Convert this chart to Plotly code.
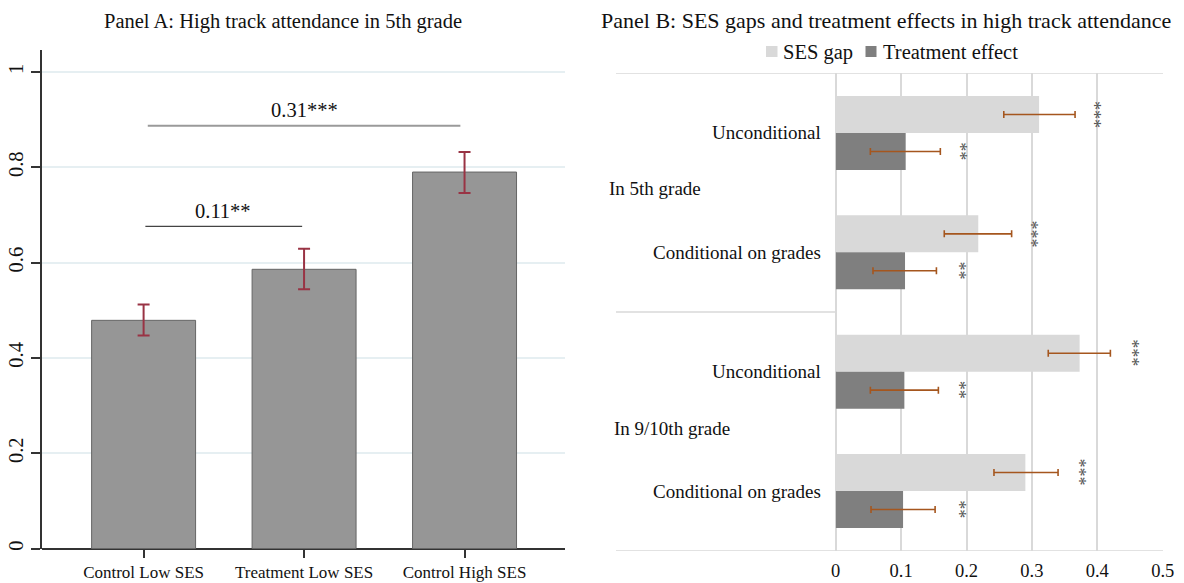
import plotly.graph_objects as go

# ---------------- Data ----------------
# Panel A
groups_a = ["Control Low SES", "Treatment Low SES", "Control High SES"]
share_a = [0.479, 0.586, 0.790]
ci_hi_a = [0.512, 0.629, 0.832]
ci_lo_a = [0.447, 0.544, 0.746]
y_ticks_a = [0, 0.2, 0.4, 0.6, 0.8, 1]
y_tick_text_a = ["0", "0.2", "0.4", "0.6", "0.8", "1"]

# brackets between groups
bracket_x0 = [0.026, 0.011]
bracket_x1 = [1.974, 0.988]
bracket_y = [0.887, 0.676]
bracket_lbl = ["0.31***", "0.11**"]
bracket_lbl_x = [1.0, 0.497]
bracket_lbl_y = [0.921, 0.709]

# Panel B
rows_b = ["Unconditional", "Conditional on grades", "Unconditional", "Conditional on grades"]
row_pos_b = [0, 1, 2, 3]
group_lbl_b = ["In 5th grade", "In 9/10th grade"]
group_pos_b = [0.464, 2.474]
ses_gap = [0.311, 0.218, 0.373, 0.290]
ses_lo = [0.257, 0.166, 0.325, 0.242]
ses_hi = [0.366, 0.269, 0.420, 0.340]
ses_star = ["***", "***", "***", "***"]
ses_star_x = [0.394, 0.299, 0.453, 0.372]
treat = [0.107, 0.106, 0.105, 0.103]
treat_lo = [0.053, 0.057, 0.053, 0.054]
treat_hi = [0.160, 0.154, 0.157, 0.152]
treat_star = ["**", "**", "**", "**"]
treat_star_x = [0.189, 0.189, 0.189, 0.189]
x_ticks_b = [0, 0.1, 0.2, 0.3, 0.4, 0.5]
x_tick_text_b = ["0", "0.1", "0.2", "0.3", "0.4", "0.5"]
legend_names_b = ["SES gap", "Treatment effect"]

# ---------------- Figure ----------------
W, H = 1184, 583
SERIF = "Liberation Serif, Times New Roman, serif"
SES_COL = "#d9d9d9"
TRT_COL = "#7f7f7f"
ERR_B = "#a5561e"


def px(x):
    return x / W


def py(y):
    return 1 - y / H


fig = go.Figure()

# Panel A bars
fig.add_trace(go.Bar(
    x=list(range(len(groups_a))), y=share_a, width=0.648,
    marker=dict(color="#969696", line=dict(color="#666666", width=1)),
    error_y=dict(type="data", symmetric=False,
                 array=[h - v for h, v in zip(ci_hi_a, share_a)],
                 arrayminus=[v - l for l, v in zip(ci_lo_a, share_a)],
                 color="#993344", thickness=2, width=6),
    xaxis="x", yaxis="y", showlegend=False, hoverinfo="skip",
))

# Panel B bars
fig.add_trace(go.Bar(
    y=row_pos_b, x=ses_gap, orientation="h", name=legend_names_b[0],
    width=0.31, offset=-0.31,
    marker=dict(color=SES_COL, line=dict(width=0)),
    error_x=dict(type="data", symmetric=False,
                 array=[h - v for h, v in zip(ses_hi, ses_gap)],
                 arrayminus=[v - l for l, v in zip(ses_lo, ses_gap)],
                 color=ERR_B, thickness=1.6, width=3.5),
    xaxis="x2", yaxis="y2", hoverinfo="skip", showlegend=False,
))
fig.add_trace(go.Bar(
    y=row_pos_b, x=treat, orientation="h", name=legend_names_b[1],
    width=0.31, offset=0,
    marker=dict(color=TRT_COL, line=dict(width=0)),
    error_x=dict(type="data", symmetric=False,
                 array=[h - v for h, v in zip(treat_hi, treat)],
                 arrayminus=[v - l for l, v in zip(treat_lo, treat)],
                 color=ERR_B, thickness=1.6, width=3.5),
    xaxis="x2", yaxis="y2", hoverinfo="skip", showlegend=False,
))

shapes = []
annotations = []

# Panel A brackets
for x0, x1, yy, col, lw in zip(bracket_x0, bracket_x1, bracket_y,
                               ["#9a9a9a", "#444444"], [2, 1.2]):
    shapes.append(dict(type="line", xref="x", yref="y", x0=x0, x1=x1, y0=yy, y1=yy,
                       line=dict(color=col, width=lw)))
for t, lx, ly in zip(bracket_lbl, bracket_lbl_x, bracket_lbl_y):
    annotations.append(dict(xref="x", yref="y", x=lx, y=ly, text=t, showarrow=False,
                            font=dict(family=SERIF, size=20.5, color="#111")))

# Panel titles
annotations.append(dict(xref="paper", yref="paper", x=px(283), y=py(22),
                        text="Panel A: High track attendance in 5th grade",
                        showarrow=False, font=dict(family=SERIF, size=20.5, color="#111"),
                        xanchor="center", yanchor="middle"))
annotations.append(dict(xref="paper", yref="paper", x=px(886), y=py(20),
                        text="Panel B: SES gaps and treatment effects in high track attendance",
                        showarrow=False, font=dict(family=SERIF, size=22, color="#111"),
                        xanchor="center", yanchor="middle"))

# Panel B legend (square swatches + labels)
for (sx0, sx1, tx), nm, col in zip([(766, 777.5, 781), (865.5, 876.5, 881)], legend_names_b, [SES_COL, TRT_COL]):
    shapes.append(dict(type="rect", xref="paper", yref="paper", x0=px(sx0), x1=px(sx1),
                       y0=py(57), y1=py(46), fillcolor=col, line=dict(width=0)))
    annotations.append(dict(xref="paper", yref="paper", x=px(tx), y=py(52), text=nm, showarrow=False,
                            xanchor="left", yanchor="middle",
                            font=dict(family=SERIF, size=20.5, color="#111")))

# Panel B significance stars
for sx, yy, s in zip(ses_star_x, row_pos_b, ses_star):
    annotations.append(dict(xref="x2", yref="y2", x=sx, y=yy - 0.155, text=s, showarrow=False,
                            textangle=90, font=dict(family=SERIF, size=18, color="#555")))
for sx, yy, s in zip(treat_star_x, row_pos_b, treat_star):
    annotations.append(dict(xref="x2", yref="y2", x=sx, y=yy + 0.155, text=s, showarrow=False,
                            textangle=90, font=dict(family=SERIF, size=18, color="#555")))

# Panel B category labels
for yy, lbl in zip(row_pos_b, rows_b):
    annotations.append(dict(xref="paper", yref="y2", x=px(823), y=yy, text=lbl, showarrow=False,
                            xanchor="right", yanchor="middle",
                            font=dict(family=SERIF, size=19, color="#111")))
for gy, gx, lbl in zip(group_pos_b, [607, 612], group_lbl_b):
    annotations.append(dict(xref="paper", yref="y2", x=px(gx), y=gy, text=lbl, showarrow=False,
                            xanchor="left", yanchor="middle",
                            font=dict(family=SERIF, size=19, color="#111")))

# Panel B frame lines (category axis region)
for yy in [-0.5, 3.5]:
    shapes.append(dict(type="line", xref="paper", yref="y2", x0=px(616), x1=px(1163), y0=yy, y1=yy,
                       line=dict(color="#d9d9d9", width=1.5)))
shapes.append(dict(type="line", xref="paper", yref="y2", x0=px(616), x1=px(835.7), y0=1.5, y1=1.5,
                   line=dict(color="#d9d9d9", width=1.5)))

fig.update_layout(
    width=W, height=H,
    margin=dict(l=0, r=0, t=0, b=0),
    paper_bgcolor="white", plot_bgcolor="white",
    barmode="overlay", showlegend=False,
    font=dict(family=SERIF, color="#111"),
    shapes=shapes, annotations=annotations,
    xaxis=dict(domain=[px(41.7), px(565)], range=[-0.635, 2.626],
               tickmode="array", tickvals=list(range(len(groups_a))), ticktext=groups_a,
               ticks="outside", ticklen=8, tickcolor="#333", tickwidth=1.5,
               showline=False, showgrid=False, zeroline=False, automargin=False,
               tickfont=dict(family=SERIF, size=17, color="#111")),
    yaxis=dict(domain=[py(548.7), py(50)], range=[0, 1.046],
               tickmode="array", tickvals=y_ticks_a, ticktext=y_tick_text_a,
               tickangle=-90, ticks="outside", ticklen=8.5, tickcolor="#333", tickwidth=1.5,
               showline=True, linecolor="#333", linewidth=2,
               showgrid=True, gridcolor="#e6eff2", gridwidth=1.5,
               zeroline=True, zerolinecolor="#333", zerolinewidth=2, automargin=False,
               tickfont=dict(family=SERIF, size=20.5, color="#111")),
    xaxis2=dict(domain=[px(835.7), px(1162.7)], range=[0, 0.5], anchor="y2",
                tickmode="array", tickvals=x_ticks_b, ticktext=x_tick_text_b,
                showgrid=True, gridcolor="#d9d9d9", gridwidth=1.5,
                zeroline=True, zerolinecolor="#d9d9d9", zerolinewidth=1.5,
                showline=False, ticks="", ticklabelstandoff=7, automargin=False,
                tickfont=dict(family=SERIF, size=18.5, color="#111")),
    yaxis2=dict(domain=[py(550.7), py(73.3)], range=[3.5, -0.5], anchor="x2",
                showticklabels=False, showgrid=False, zeroline=False, showline=False,
                ticks="", automargin=False),
)

fig.write_html(
    "out.html",
    config={"displayModeBar": False},
    post_script="document.body.style.margin='0';document.body.style.padding='0';",
)
